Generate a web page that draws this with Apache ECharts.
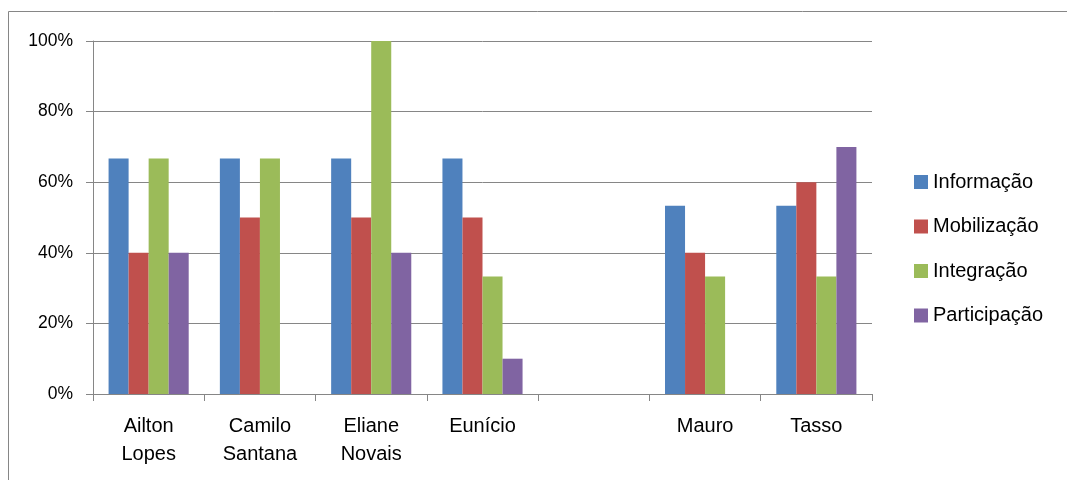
<!DOCTYPE html>
<html>
<head>
<meta charset="utf-8">
<script src="https://cdn.jsdelivr.net/npm/echarts@6/dist/echarts.min.js"></script>
<style>
  html, body { margin: 0; padding: 0; background: #fff; }
  #chart { width: 1067px; height: 480px; }
</style>
</head>
<body>
<div id="chart"></div>
<script>
// Candidates (one empty slot kept as in the layout)
const categories = ['Ailton\nLopes', 'Camilo\nSantana', 'Eliane\nNovais', 'Eunício', '', 'Mauro', 'Tasso'];
const seriesNames = ['Informação', 'Mobilização', 'Integração', 'Participação'];
const colors = ['#4F81BD', '#C0504D', '#9BBB59', '#8064A2'];

// Percent values per series
const informacao   = [66.7, 66.7, 66.7, 66.7, null, 53.3, 53.3];
const mobilizacao  = [40, 50, 50, 50, null, 40, 60];
const integracao   = [66.7, 66.7, 100, 33.3, null, 33.3, 33.3];
const participacao = [40, null, 40, 10, null, null, 70];

const yTicks = { min: 0, max: 100, interval: 20 };

const values = [informacao, mobilizacao, integracao, participacao];
const font = 'Liberation Sans, Arial, sans-serif';

const chart = echarts.init(document.getElementById('chart'));
chart.setOption({
  animation: false,
  color: colors,
  grid: { left: 93, right: 195, top: 41, bottom: 86 },
  legend: {
    orient: 'vertical',
    left: 909,
    top: 167,
    itemWidth: 14,
    itemHeight: 14,
    itemGap: 24.5,
    icon: 'rect',
    textStyle: { fontFamily: font, fontSize: 20, color: '#000' },
    data: seriesNames
  },
  xAxis: {
    type: 'category',
    data: categories,
    axisLine: { lineStyle: { color: '#868686', width: 1 } },
    axisTick: { show: true, alignWithLabel: false, length: 7, lineStyle: { color: '#868686' } },
    axisLabel: { fontFamily: font, fontSize: 20, color: '#000', margin: 18, lineHeight: 28, interval: 0 }
  },
  yAxis: {
    type: 'value',
    min: yTicks.min,
    max: yTicks.max,
    interval: yTicks.interval,
    axisLine: { show: true, lineStyle: { color: '#868686', width: 1 } },
    axisTick: { show: true, length: 7, lineStyle: { color: '#868686' } },
    axisLabel: { fontFamily: font, fontSize: 17.5, color: '#000', margin: 20, formatter: '{value}%' },
    splitLine: { lineStyle: { color: '#868686', width: 1 } }
  },
  series: seriesNames.map((name, i) => ({
    name: name,
    type: 'bar',
    data: values[i],
    barGap: '0%',
    barCategoryGap: '28%',
    itemStyle: { color: colors[i] }
  })),
  graphic: [
    { type: 'line', shape: { x1: 8.5, y1: 11.5, x2: 1067, y2: 11.5 }, style: { stroke: '#868686', lineWidth: 1 } },
    { type: 'line', shape: { x1: 8.5, y1: 11.5, x2: 8.5, y2: 480 }, style: { stroke: '#868686', lineWidth: 1 } }
  ]
});
</script>
</body>
</html>
